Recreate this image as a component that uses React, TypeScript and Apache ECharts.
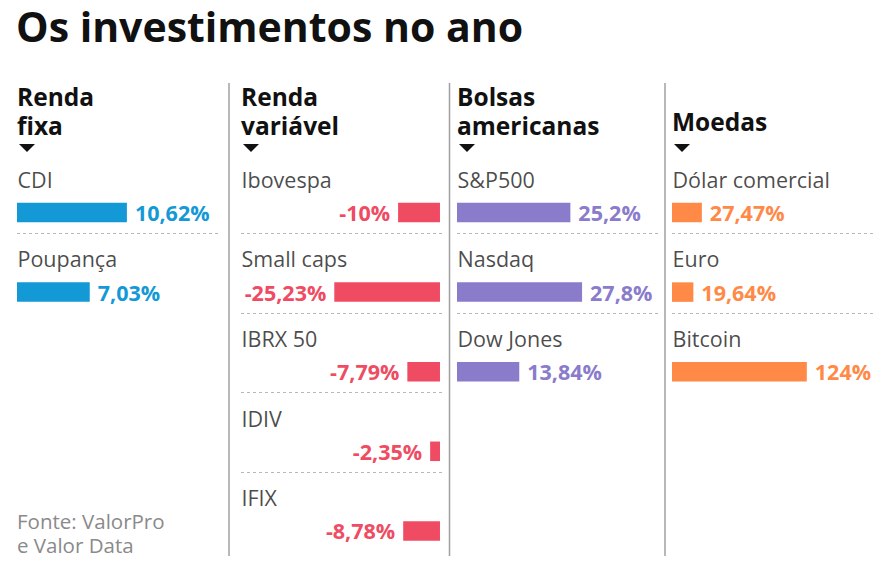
import React, { useEffect, useRef } from "react";
import * as echarts from "echarts";

const TITLE = "Os investimentos no ano";
const SOURCE = ["Fonte: ValorPro", "e Valor Data"];

const headers = ["Renda\nfixa", "Renda\nvariável", "Bolsas\namericanas", "Moedas"];

const fixaNames = ["CDI", "Poupança"];
const fixaValues = [10.62, 7.03];

const variavelNames = ["Ibovespa", "Small caps", "IBRX 50", "IDIV", "IFIX"];
const variavelValues = [-10, -25.23, -7.79, -2.35, -8.78];

const bolsasNames = ["S&P500", "Nasdaq", "Dow Jones"];
const bolsasValues = [25.2, 27.8, 13.84];

const moedasNames = ["Dólar comercial", "Euro", "Bitcoin"];
const moedasValues = [27.47, 19.64, 124];

const FONT = "'Open Sans', 'Noto Sans', sans-serif";

const columns = [
  { header: headers[0], names: fixaNames, values: fixaValues, color: "#1399d6", left: 17, min: 0, max: 19.52 },
  { header: headers[1], names: variavelNames, values: variavelValues, color: "#ef4b63", left: 241, min: -47.5, max: 0.72 },
  { header: headers[2], names: bolsasNames, values: bolsasValues, color: "#8a7bcb", left: 457, min: 0, max: 44.9 },
  { header: headers[3], names: moedasNames, values: moedasValues, color: "#ff8947", left: 672, min: 0, max: 185.8 },
];

const BAND = 79.6;
const GRID_TOP = 153.9;
const GRID_W = 202;
const BAR_W = 19.5;
const SPACER_W = 37.6;

const fmt = (v: number) => String(v).replace(".", ",") + "%";

export default function App() {
  const ref = useRef<HTMLDivElement>(null);
  useEffect(() => {
    document.body.style.margin = "0";
    if (!ref.current) return;
    const chart = echarts.init(ref.current, null, { renderer: "svg" });

    const grid: any[] = [];
    const xAxis: any[] = [];
    const yAxis: any[] = [];
    const series: any[] = [];
    const graphic: any[] = [];

    columns.forEach((c, i) => {
      grid.push({ left: c.left, top: GRID_TOP, width: GRID_W, height: c.names.length * BAND, containLabel: false });
      xAxis.push({ type: "value", gridIndex: i, min: c.min, max: c.max, show: false });
      yAxis.push({
        type: "category",
        gridIndex: i,
        inverse: true,
        data: c.names,
        axisLine: { show: false },
        axisTick: { show: false },
        axisLabel: { show: false },
        splitLine: {
          show: true,
          showMinLine: false,
          showMaxLine: false,
          lineStyle: { type: [3, 3], color: "#b8b8b8", width: 1 },
        },
      });
      series.push({
        type: "bar",
        xAxisIndex: i,
        yAxisIndex: i,
        data: c.names.map(() => 0),
        barWidth: SPACER_W,
        barGap: "0%",
        itemStyle: { color: "transparent" },
        silent: true,
      });
      series.push({
        type: "bar",
        xAxisIndex: i,
        yAxisIndex: i,
        data: c.values,
        barWidth: BAR_W,
        barGap: "0%",
        itemStyle: { color: c.color },
        label: {
          show: true,
          position: c.min < 0 ? "left" : "right",
          distance: 8,
          formatter: (p: any) => fmt(p.value),
          color: c.color,
          fontWeight: "bold",
          fontSize: 21.5,
          fontFamily: FONT,
        },
      });
      series.push({
        type: "scatter",
        xAxisIndex: i,
        yAxisIndex: i,
        symbolSize: 1,
        itemStyle: { color: "transparent" },
        silent: true,
        data: c.names.map((n, j) => ({ name: n, value: [c.min, j] })),
        label: {
          show: true,
          position: "right",
          distance: 0,
          offset: [0, -14.5],
          formatter: "{b}",
          color: "#1a1a1a",
          fontSize: 21.5,
          fontFamily: FONT,
        },
      });

      const lines = c.header.split("\n");
      const y0 = lines.length === 1 ? 121.5 : 96.5;
      lines.forEach((ln, k) => {
        graphic.push({
          type: "text",
          x: c.left,
          y: y0 + k * 28.5,
          style: {
            text: ln,
            font: `bold 24.5px ${FONT}`,
            fill: "#111",
            verticalAlign: "middle",
            align: "left",
          },
        });
      });
      graphic.push({
        type: "polygon",
        shape: { points: [[c.left + 2, 144], [c.left + 18, 144], [c.left + 10, 152]] },
        style: { fill: "#111" },
      });
    });

    [229, 449.5, 665].forEach((x) => {
      graphic.push({
        type: "line",
        shape: { x1: x, y1: 83, x2: x, y2: 556 },
        style: { stroke: "#a0a0a0", lineWidth: 1.5 },
      });
    });

    SOURCE.forEach((ln, k) => {
      graphic.push({
        type: "text",
        x: 17,
        y: 520.5 + k * 24,
        style: {
          text: ln,
          font: `20.5px ${FONT}`,
          fill: "#8a8a8a",
          verticalAlign: "middle",
          align: "left",
        },
      });
    });

    graphic.push({
      type: "text",
      x: 16,
      y: 26,
      style: {
        text: TITLE,
        font: `bold 41px ${FONT}`,
        fill: "#111",
        verticalAlign: "middle",
        align: "left",
      },
    });

    chart.setOption({
      animation: false,
      backgroundColor: "#ffffff",
      grid,
      xAxis,
      yAxis,
      series,
      graphic,
    });
    return () => chart.dispose();
  }, []);
  return <div ref={ref} style={{ width: 888, height: 569 }} />;
}
